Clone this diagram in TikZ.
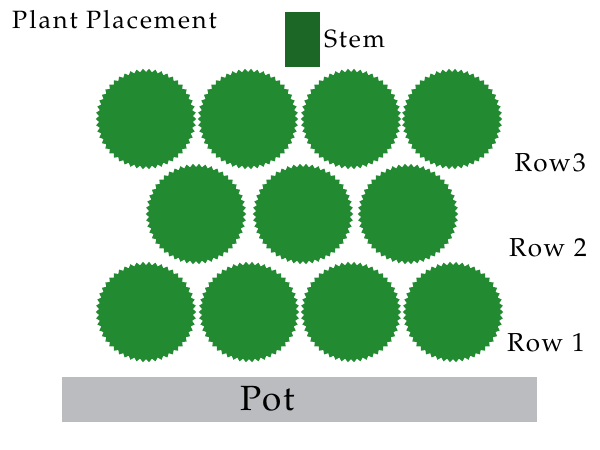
\documentclass[tikz,border=0pt]{standalone}
\usepackage{fontspec}
\setmainfont{TeX Gyre Pagella}[LetterSpace=8]
\usetikzlibrary{shapes.geometric}
\definecolor{leaf}{RGB}{34,139,50}
\definecolor{stemc}{RGB}{28,102,38}
\definecolor{potc}{RGB}{187,188,192}
\tikzset{
  plant/.style={star, star points=50, star point ratio=0.935, minimum size=94pt, inner sep=0pt, outer sep=0pt, fill=leaf, draw=none},
  lbl/.style={font=\fontsize{25}{30}\selectfont, inner sep=0pt, text=black}
}
\begin{document}
\begin{tikzpicture}[x=1pt,y=-1pt]
\useasboundingbox (0,0) rectangle (600,450);
\node[lbl, anchor=west] (title) at (12,20) {Plant Placement};
\node[fill=stemc, minimum width=35pt, minimum height=55pt, inner sep=0pt, anchor=north west] (stem) at (285,12) {};
\node[lbl, anchor=west] (stemlbl) at (324,39) {Stem};
% row 3 (top)
\node[plant] (r3a) at (146,119) {};
\node[plant] (r3b) at (248,119) {};
\node[plant] (r3c) at (351,119) {};
\node[plant] (r3d) at (452,119) {};
% row 2
\node[plant] (r2a) at (196,214) {};
\node[plant] (r2b) at (303,214) {};
\node[plant] (r2c) at (408,214) {};
% row 1
\node[plant] (r1a) at (146,312) {};
\node[plant] (r1b) at (249,312) {};
\node[plant] (r1c) at (351,312) {};
\node[plant] (r1d) at (453,312) {};
% labels
\node[lbl, anchor=east, font=\fontsize{26}{30}\selectfont] (row3) at (586,163) {Row3};
\node[lbl, anchor=east, font=\fontsize{26}{30}\selectfont] (row2) at (587,248) {Row 2};
\node[lbl, anchor=east, font=\fontsize{26}{30}\selectfont] (row1) at (585,343) {Row 1};
% pot
\node[fill=potc, minimum width=475pt, minimum height=45pt, inner sep=0pt, anchor=north west] (pot) at (62,377) {};
\node[font=\fontsize{35}{40}\selectfont, inner sep=0pt] (potlbl) at (268,399) {Pot};
\end{tikzpicture}
\end{document}
